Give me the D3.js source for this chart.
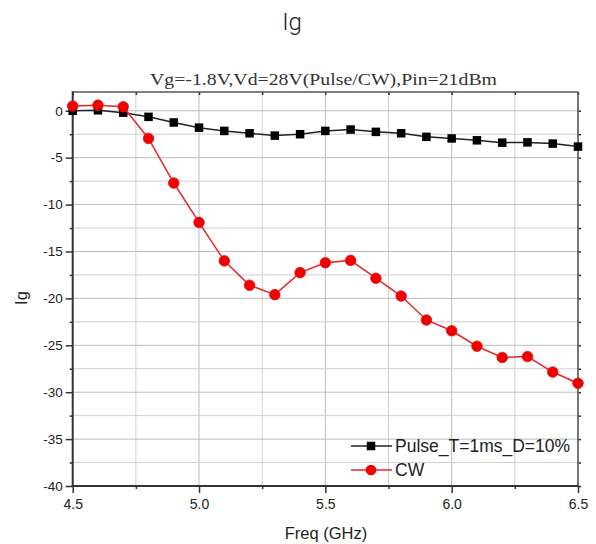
<!DOCTYPE html>
<html>
<head>
<meta charset="utf-8">
<script src="https://cdn.jsdelivr.net/npm/d3@7/dist/d3.min.js"></script>
<style>
  html, body { margin: 0; padding: 0; background: #fff; }
  svg { display: block; }
  .tick text { font-family: "Liberation Sans", Arial, sans-serif; fill: #222; }
</style>
</head>
<body>
<svg id="chart" width="596" height="544"></svg>
<script>
// Frequency sweep (GHz)
const freq = [4.5, 4.6, 4.7, 4.8, 4.9, 5.0, 5.1, 5.2, 5.3, 5.4, 5.5,
              5.6, 5.7, 5.8, 5.9, 6.0, 6.1, 6.2, 6.3, 6.4, 6.5];
// Gate current, pulsed operation
const pulseIg = [0.0, 0.05, -0.2, -0.65, -1.25, -1.8, -2.15, -2.4, -2.65, -2.5, -2.15,
                 -2.0, -2.25, -2.4, -2.78, -2.95, -3.15, -3.4, -3.37, -3.5, -3.82];
// Gate current, continuous wave
const cwIg = [0.5, 0.6, 0.43, -2.95, -7.7, -11.9, -16.0, -18.6, -19.6, -17.25, -16.2,
              -15.95, -17.85, -19.75, -22.3, -23.45, -25.1, -26.3, -26.2, -27.85, -29.05];
const seriesNames = ["Pulse_T=1ms_D=10%", "CW"];
const xTicks = [4.5, 5.0, 5.5, 6.0, 6.5];
const xMinor = [4.75, 5.25, 5.75, 6.25];
const yTicks = [-40, -35, -30, -25, -20, -15, -10, -5, 0];
const yMinor = [-37.5, -32.5, -27.5, -22.5, -17.5, -12.5, -7.5, -2.5];

const svg = d3.select("#chart");
const W = 596, H = 544;
const m = { left: 72.7, right: 18, top: 92, bottom: 58 };
const x = d3.scaleLinear().domain([4.5, 6.5]).range([m.left, W - m.right]);
const y = d3.scaleLinear().domain([-40, 2]).range([H - m.bottom, m.top]);
const pw = W - m.right - m.left, ph = H - m.bottom - m.top;

// Titles
svg.append("text").attr("x", 292).attr("y", 30).attr("text-anchor", "middle")
  .style("font-family", "Roboto, sans-serif").style("font-weight", 300)
  .style("font-size", "24px").attr("fill", "#222").text("Ig");
svg.append("text").attr("x", 150).attr("y", 85)
  .attr("textLength", 347).attr("lengthAdjust", "spacingAndGlyphs")
  .style("font-family", "\"Liberation Serif\", serif").style("font-size", "17px")
  .attr("fill", "#333").text("Vg=-1.8V,Vd=28V(Pulse/CW),Pin=21dBm");

// Grid
const grid = svg.append("g");
grid.selectAll("line.gx").data(xTicks.concat(xMinor)).join("line")
  .attr("x1", d => x(d)).attr("x2", d => x(d))
  .attr("y1", m.top).attr("y2", m.top + ph)
  .attr("stroke", d => xTicks.includes(d) ? "#bdbdbd" : "#d0d0d0").attr("stroke-width", 1);
grid.selectAll("line.gy").data(yTicks.concat(yMinor)).join("line")
  .attr("y1", d => y(d)).attr("y2", d => y(d))
  .attr("x1", m.left).attr("x2", m.left + pw)
  .attr("stroke", d => yTicks.includes(d) ? "#bdbdbd" : "#d0d0d0").attr("stroke-width", 1);

// Axes
const axL = svg.append("g").attr("transform", `translate(${m.left},0)`)
  .call(d3.axisLeft(y).tickValues(yTicks).tickSize(7).tickPadding(3).tickFormat(d => String(d)));
const axLm = svg.append("g").attr("transform", `translate(${m.left},0)`)
  .call(d3.axisLeft(y).tickValues(yMinor).tickSize(3).tickFormat(""));
const axB = svg.append("g").attr("transform", `translate(0,${m.top + ph})`)
  .call(d3.axisBottom(x).tickValues(xTicks).tickSize(7).tickPadding(6).tickFormat(d3.format(".1f")));
const axBm = svg.append("g").attr("transform", `translate(0,${m.top + ph})`)
  .call(d3.axisBottom(x).tickValues(xMinor).tickSize(3).tickFormat(""));
const axR = svg.append("g").attr("transform", `translate(${m.left + pw},0)`)
  .call(d3.axisRight(y).tickValues(yTicks.concat(yMinor)).tickSize(3).tickFormat(""));
const axT = svg.append("g").attr("transform", `translate(0,${m.top})`)
  .call(d3.axisTop(x).tickValues(xTicks.concat(xMinor)).tickSize(-3).tickFormat(""));
[axL, axLm, axB, axBm, axR, axT].forEach(g => {
  g.select(".domain").remove();
  g.selectAll(".tick line").attr("stroke", "#333").attr("stroke-width", 1.5);
});
axL.selectAll(".tick text").style("font-size", "13.5px");
axB.selectAll(".tick text").style("font-size", "14px");

// Frame
svg.append("line").attr("x1", m.left).attr("x2", m.left + pw).attr("y1", m.top).attr("y2", m.top)
  .attr("stroke", "#555").attr("stroke-width", 1.5);
svg.append("line").attr("x1", m.left + pw).attr("x2", m.left + pw).attr("y1", m.top).attr("y2", m.top + ph)
  .attr("stroke", "#555").attr("stroke-width", 1.5);
svg.append("line").attr("x1", m.left).attr("x2", m.left).attr("y1", m.top - 0.75).attr("y2", m.top + ph + 1)
  .attr("stroke", "#333").attr("stroke-width", 2);
svg.append("line").attr("x1", m.left - 1).attr("x2", m.left + pw + 0.75).attr("y1", m.top + ph).attr("y2", m.top + ph)
  .attr("stroke", "#333").attr("stroke-width", 2);

// Axis titles
svg.append("text").attr("x", 326).attr("y", 539).attr("text-anchor", "middle")
  .style("font-family", "\"Liberation Sans\", Arial, sans-serif").style("font-size", "16.5px")
  .attr("fill", "#222").text("Freq (GHz)");
svg.append("text").attr("transform", "translate(27,298) rotate(-90)").attr("text-anchor", "middle")
  .style("font-family", "\"Liberation Sans\", Arial, sans-serif").style("font-size", "16.5px")
  .attr("fill", "#222").text("Ig");

// Series
const line = d3.line().x((d, i) => x(freq[i])).y(d => y(d));
const plot = svg.append("g");
plot.append("path").datum(pulseIg).attr("d", line).attr("fill", "none")
  .attr("stroke", "#222").attr("stroke-width", 1.5);
plot.selectAll("rect.p").data(pulseIg).join("rect")
  .attr("x", (d, i) => x(freq[i]) - 4.25).attr("y", d => y(d) - 4.25)
  .attr("width", 8.5).attr("height", 8.5).attr("fill", "#000");
plot.append("path").datum(cwIg).attr("d", line).attr("fill", "none")
  .attr("stroke", "#e8262a").attr("stroke-width", 1.5);
plot.selectAll("circle.c").data(cwIg).join("circle")
  .attr("cx", (d, i) => x(freq[i])).attr("cy", d => y(d)).attr("r", 5.3)
  .attr("fill", "#f20000").attr("stroke", "#d81818").attr("stroke-width", 0.8);

// Legend
const lg = svg.append("g");
const lgY = [446, 470];
lg.append("line").attr("x1", 351).attr("x2", 392).attr("y1", lgY[0]).attr("y2", lgY[0])
  .attr("stroke", "#222").attr("stroke-width", 1.5);
lg.append("rect").attr("x", 371 - 4.25).attr("y", lgY[0] - 4.25).attr("width", 8.5).attr("height", 8.5).attr("fill", "#000");
lg.append("line").attr("x1", 351).attr("x2", 392).attr("y1", lgY[1]).attr("y2", lgY[1])
  .attr("stroke", "#e8262a").attr("stroke-width", 1.5);
lg.append("circle").attr("cx", 371).attr("cy", lgY[1]).attr("r", 5.3).attr("fill", "#f20000");
lg.selectAll("text").data(seriesNames).join("text")
  .attr("x", 395).attr("y", (d, i) => lgY[i] + 6.3)
  .style("font-family", "\"Liberation Sans\", Arial, sans-serif").style("font-size", "17.5px")
  .attr("fill", "#222").text(d => d);
</script>
</body>
</html>
